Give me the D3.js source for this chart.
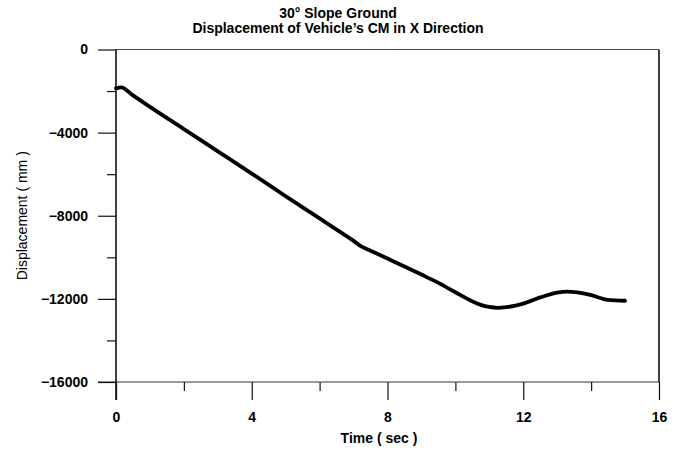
<!DOCTYPE html>
<html>
<head>
<meta charset="utf-8">
<script src="https://cdn.jsdelivr.net/npm/d3@7"></script>
<style>
  body { margin: 0; background: #fff; }
  text { font-family: "Liberation Sans", Arial, sans-serif; fill: #000; }
</style>
</head>
<body>
<svg class="main-svg" width="681" height="452"></svg>
<script>
'use strict'

// time (sec) and displacement (mm)
const timeSec = [0, 0.15, 0.5, 1, 2, 3, 4, 5, 5.5, 6, 6.5, 7, 7.2, 7.5, 8, 8.5, 9, 9.5, 10, 10.5,
  10.75, 11, 11.25, 11.5, 12, 12.5, 13, 13.3, 13.6, 14, 14.5, 15]
const dispMm = [-1870, -1820, -2210, -2760, -3830, -4900, -5970, -7060, -7600, -8130, -8670, -9210, -9450, -9680,
  -10060, -10440, -10830, -11230, -11680, -12120, -12290, -12390, -12430, -12400, -12230, -11930, -11700, -11650,
  -11690, -11820, -12050, -12090]

const xMajorTicks = [0, 4, 8, 12, 16]
const xMinorTicks = [2, 6, 10, 14]
const yMajorTicks = [0, -4000, -8000, -12000, -16000]
const yMinorTicks = [-2000, -6000, -10000, -14000]

const titleLines = ['30° Slope Ground', 'Displacement of Vehicle\u2019s CM in X Direction']

const plot = { left: 116, right: 659, top: 49.5, bottom: 382 }

const svg = d3.select('.main-svg')

const x = d3.scaleLinear().domain([0, 16]).range([plot.left, plot.right])
const y = d3.scaleLinear().domain([-16000, 0]).range([plot.bottom, plot.top])

// frame: top and right borders
svg.append('line')
  .attr('x1', plot.left).attr('x2', plot.right)
  .attr('y1', plot.top).attr('y2', plot.top)
  .attr('stroke', '#444').attr('stroke-width', 1)
svg.append('line')
  .attr('x1', plot.right).attr('x2', plot.right)
  .attr('y1', plot.top).attr('y2', plot.bottom)
  .attr('stroke', '#111').attr('stroke-width', 1.6)

// bottom axis
const xAxis = svg.append('g').attr('transform', `translate(0,${plot.bottom})`)
xAxis.call(d3.axisBottom(x).tickValues(xMajorTicks).tickSize(18).tickPadding(12).tickFormat(d3.format('d')))
xAxis.append('g').call(d3.axisBottom(x).tickValues(xMinorTicks).tickSize(9).tickFormat(''))
xAxis.selectAll('.domain').remove()
xAxis.append('line').attr('x1', plot.left - 18).attr('x2', plot.right)
  .attr('stroke', '#333').attr('stroke-width', 1.2)

// left axis
const yAxis = svg.append('g').attr('transform', `translate(${plot.left},0)`)
yAxis.call(d3.axisLeft(y).tickValues(yMajorTicks).tickSize(18).tickPadding(10).tickFormat(d3.format('d')))
yAxis.append('g').call(d3.axisLeft(y).tickValues(yMinorTicks).tickSize(9).tickFormat(''))
yAxis.selectAll('.domain').remove()
yAxis.append('line').attr('y1', plot.top).attr('y2', plot.bottom + 18)
  .attr('stroke', '#111').attr('stroke-width', 1.6)

svg.selectAll('.tick line').attr('stroke', '#111').attr('stroke-width', 1.2)
svg.selectAll('.tick text')
  .style('font-family', '"Liberation Sans", Arial, sans-serif')
  .style('font-size', '14px').style('font-weight', 'bold').attr('fill', '#000')

// the curve
const line = d3.line()
  .x((d, i) => x(timeSec[i]))
  .y(d => y(d))
  .curve(d3.curveMonotoneX)

svg.append('path')
  .datum(dispMm)
  .attr('d', line)
  .attr('fill', 'none')
  .attr('stroke', '#000')
  .attr('stroke-width', 3.8)
  .attr('stroke-linejoin', 'round')
  .attr('stroke-linecap', 'round')

// titles
svg.selectAll('.title')
  .data(titleLines)
  .join('text')
  .attr('class', 'title')
  .attr('x', 338)
  .attr('y', (d, i) => 18 + i * 15)
  .attr('text-anchor', 'middle')
  .style('font-size', '14px')
  .style('font-weight', 'bold')
  .text(d => d)

svg.append('text')
  .attr('x', 379).attr('y', 443)
  .attr('text-anchor', 'middle')
  .style('font-size', '14px').style('font-weight', 'bold')
  .text('Time ( sec )')

svg.append('text')
  .attr('transform', `translate(27,${(plot.top + plot.bottom) / 2}) rotate(-90)`)
  .attr('text-anchor', 'middle')
  .style('font-size', '14px')
  .text('Displacement ( mm )')
</script>
</body>
</html>
